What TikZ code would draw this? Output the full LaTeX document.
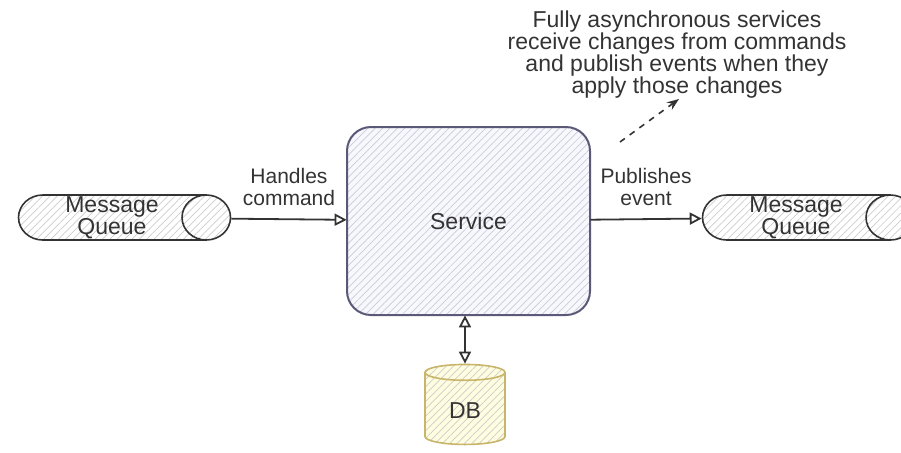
\documentclass[tikz,border=0pt]{standalone}
\usepackage{fontspec}
\setmainfont{Liberation Sans}
\usetikzlibrary{shapes.geometric,arrows.meta,patterns.meta}

\definecolor{inkline}{HTML}{333333}
\definecolor{svcline}{HTML}{5A5A78}
\definecolor{dbline}{HTML}{C8B46A}

\begin{document}
\begin{tikzpicture}[x=0.5pt,y=-0.5pt,
      hatch/.style={pattern={Lines[angle=45,distance=2.6pt,line width=0.35pt]},
                    pattern color=gray!40},
      queue/.style={cylinder, draw=inkline, line width=0.8pt, hatch,
                    minimum height=106pt, minimum width=22.5pt, aspect=1.15,
                    inner sep=0pt},
      flow/.style={draw=inkline, line width=0.9pt, -{Triangle[open,length=6pt,width=6pt]}},
      every node/.append style={font=\fontsize{11.5}{11}\selectfont, align=center, text=inkline}]
    \clip (0,0) rectangle (901,452);

    % the service in the middle
    \node[draw=svcline, line width=1pt, rounded corners=12pt,
          preaction={fill=blue!3}, hatch,
          minimum width=121.5pt, minimum height=94pt] (svc) at (468.5,221) {Service};

    % queues on both sides
    \node[queue] (mqin) at (112,217.5) {Message\\Queue};
    \node[queue] (mqout) at (796,217.5) {Message\\Queue};

    % database below
    \node[cylinder, shape border rotate=90, draw=dbline, line width=0.8pt,
          preaction={fill=yellow!12}, hatch, aspect=0.35,
          minimum width=40pt, minimum height=40pt] (db) at (465,411) {DB};

    % connectors
    \draw[flow] (mqin) -- node[above=3pt, font=\fontsize{10.5}{11}\selectfont] {Handles\\command} (svc);
    \draw[flow] (svc) -- node[above=3pt, font=\fontsize{10.5}{11}\selectfont] {Publishes\\event} (mqout);
    \draw[flow, {Triangle[open,length=6pt,width=6pt]}-{Triangle[open,length=6pt,width=6pt]}]
      (db.north |- svc.south) -- (db.north);

    % note with dashed pointer
    \node (note) at (677,55) {Fully asynchronous services\\receive changes from commands\\and publish events when they\\apply those changes};
    \coordinate (tail) at (620,142);
    \coordinate (tip) at (679,99);
    \draw[inkline, line width=0.8pt, dashed, -{Stealth[length=6pt]}] (tail) -- (tip);
\end{tikzpicture}
\end{document}
